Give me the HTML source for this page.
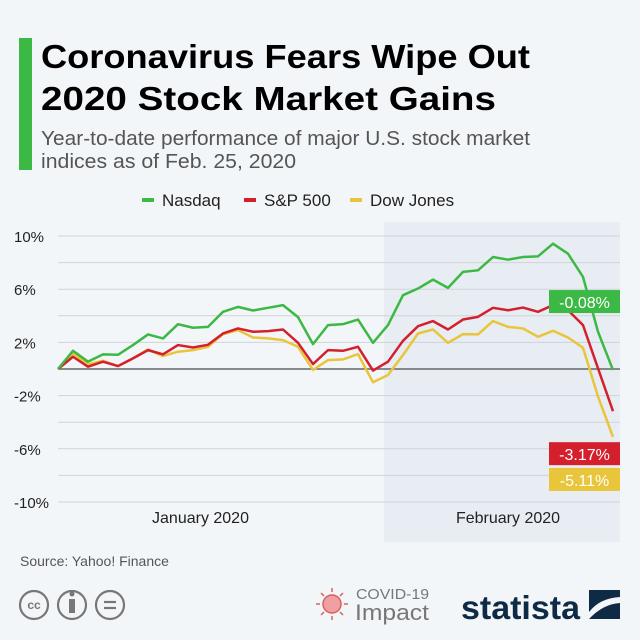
<!DOCTYPE html>
<html><head><meta charset="utf-8"><style>
body{margin:0;background:#f3f6f9;}
#root{position:relative;width:640px;height:640px;background:#f3f6f9;font-family:"Liberation Sans",sans-serif;overflow:hidden}
</style></head><body>
<div id="root">
<svg id="svg" width="640" height="640" xmlns="http://www.w3.org/2000/svg">
<rect x="19" y="38" width="13" height="132" fill="#3cb944"/>
<text x="41" y="68" font-size="33" font-weight="bold" fill="#000" textLength="489" lengthAdjust="spacingAndGlyphs">Coronavirus Fears Wipe Out</text>
<text x="41" y="110" font-size="33" font-weight="bold" fill="#000" textLength="455" lengthAdjust="spacingAndGlyphs">2020 Stock Market Gains</text>
<text x="41" y="145" font-size="20" fill="#555" textLength="489" lengthAdjust="spacingAndGlyphs">Year-to-date performance of major U.S. stock market</text>
<text x="41" y="168" font-size="20" fill="#555" textLength="255" lengthAdjust="spacingAndGlyphs">indices as of Feb. 25, 2020</text>
<g>
<rect x="142" y="198" width="12" height="4" fill="#3cb944"/>
<text x="162" y="206" font-size="17" fill="#222">Nasdaq</text>
<rect x="244" y="198" width="12" height="4" fill="#d4202c"/>
<text x="264" y="206" font-size="17" fill="#222">S&amp;P 500</text>
<rect x="350" y="198" width="12" height="4" fill="#e8c53a"/>
<text x="370" y="206" font-size="17" fill="#222">Dow Jones</text>
</g>
<g id="plot"></g>
<text x="20" y="566" font-size="14" fill="#555">Source: Yahoo! Finance</text>
<g fill="none" stroke="#777" stroke-width="2.2">
<circle cx="34" cy="605" r="14"/><circle cx="72" cy="605" r="14"/><circle cx="110" cy="605" r="14"/>
<text x="34" y="609" font-size="12" fill="#777" stroke="none" text-anchor="middle" font-weight="bold">cc</text>
<rect x="69" y="599" width="6" height="14" fill="#777" stroke="none"/><circle cx="72" cy="594" r="2.5" fill="#777" stroke="none"/>
<line x1="104" y1="602" x2="116" y2="602"/><line x1="104" y1="608" x2="116" y2="608"/>
</g>
<g>
<circle cx="332" cy="604" r="9" fill="#f0a0a0" stroke="#d86060" stroke-width="1.5"/>
<g stroke="#d86060" stroke-width="1.5"><line x1="332" y1="592" x2="332" y2="588"/><line x1="332" y1="616" x2="332" y2="620"/><line x1="320" y1="604" x2="316" y2="604"/><line x1="344" y1="604" x2="348" y2="604"/><line x1="324" y1="596" x2="321" y2="593"/><line x1="340" y1="612" x2="343" y2="615"/><line x1="340" y1="596" x2="343" y2="593"/><line x1="324" y1="612" x2="321" y2="615"/></g>
<text x="356" y="599" font-size="15" fill="#777" textLength="73" lengthAdjust="spacingAndGlyphs">COVID-19</text>
<text x="355" y="620" font-size="22" fill="#777" textLength="74" lengthAdjust="spacingAndGlyphs">Impact</text>
</g>
<g>
<text x="461" y="619" font-size="33" font-weight="bold" fill="#0f2a44" textLength="119" lengthAdjust="spacingAndGlyphs">statista</text>
<rect x="589" y="590" width="31" height="29" fill="#0f2a44"/>
<path d="M589 612 Q600 598 620 597 L620 603 Q603 604 589 619 Z" fill="#f3f6f9"/>
</g>
</svg>
</div>
<script>
const categories = ["Dec31","Jan2","Jan3","Jan6","Jan7","Jan8","Jan9","Jan10","Jan13","Jan14","Jan15","Jan16","Jan17","Jan21","Jan22","Jan23","Jan24","Jan27","Jan28","Jan29","Jan30","Jan31","Feb3","Feb4","Feb5","Feb6","Feb7","Feb10","Feb11","Feb12","Feb13","Feb14","Feb18","Feb19","Feb20","Feb21","Feb24","Feb25"];
const nasdaq = [0,1.37,0.55,1.1,1.07,1.8,2.6,2.3,3.37,3.1,3.17,4.3,4.67,4.4,4.6,4.8,3.9,1.87,3.3,3.37,3.72,1.97,3.3,5.55,6.05,6.72,6.1,7.3,7.42,8.42,8.22,8.42,8.47,9.42,8.67,6.92,2.8,-0.08];
const sp500 = [0,0.92,0.17,0.55,0.22,0.8,1.42,1.1,1.8,1.62,1.82,2.67,3.05,2.8,2.85,2.97,1.97,0.37,1.42,1.37,1.67,-0.12,0.55,2.12,3.22,3.6,2.97,3.72,3.92,4.6,4.42,4.62,4.3,4.8,4.42,3.3,0.05,-3.17];
const dow = [0,1.17,0.35,0.62,0.22,0.8,1.47,0.97,1.3,1.42,1.67,2.62,2.92,2.37,2.3,2.17,1.67,-0.07,0.67,0.72,1.12,-1.0,-0.45,1.05,2.67,2.97,1.97,2.62,2.6,3.6,3.17,3.05,2.42,2.87,2.37,1.6,-2.07,-5.11];
const yTicks = [10,6,2,-2,-6,-10];
const endLabels = ["-0.08%","-3.17%","-5.11%"];
const monthLabels = ["January 2020","February 2020"];

const NS="http://www.w3.org/2000/svg";
const plot=document.getElementById('plot');
const X0=58, X1=613, Y0=369, PPU=13.3;
const xs=i=>X0+i*(X1-X0)/(categories.length-1);
const ys=v=>Y0-v*PPU;
function mk(tag,attrs){const e=document.createElementNS(NS,tag);for(const k in attrs)e.setAttribute(k,attrs[k]);plot.appendChild(e);return e;}
const febStart=categories.indexOf("Feb3");
const sh=mk('rect',{x:xs(febStart)-4,y:ys(10)-14,width:620-(xs(febStart)-4),height:ys(-10)+40-(ys(10)-14),fill:'#e8edf4'});


for(let v=-10;v<=10;v+=2){
  const g=mk('line',{x1:X0,x2:620,y1:ys(v),y2:ys(v),stroke:v===0?'#666':'#cfd3d8','stroke-width':v===0?1.5:1});
  
  
}
yTicks.forEach(v=>{
  const t=mk('text',{x:14,y:ys(v)+6,'font-size':15,fill:'#222'});
  t.textContent=v+'%';
  
  
});
[[categories.indexOf("Jan16")-1.5,0],[categories.indexOf("Feb13"),1]].forEach(([i,k])=>{
  const t=mk('text',{x:xs(i),y:523,'font-size':16,fill:'#222','text-anchor':'middle'});
  t.textContent=monthLabels[k];
  
  
});
const series=[[dow,'#e8c53a','dow-line'],[sp500,'#d4202c','sp500-line'],[nasdaq,'#3cb944','nasdaq-line']];
series.forEach(([d,c,n])=>{
  const p=mk('polyline',{points:d.map((v,i)=>xs(i)+','+ys(v)).join(' '),fill:'none',stroke:c,'stroke-width':2.5,'stroke-linejoin':'round'});
  
  
});
const last=categories.length-1;
const boxes=[[nasdaq[last],'#3cb944',endLabels[0],ys(nasdaq[last])-80,'nasdaq-end-label'],[sp500[last],'#d4202c',endLabels[1],ys(sp500[last])+31,'sp500-end-label'],[dow[last],'#e8c53a',endLabels[2],ys(dow[last])+31,'dow-end-label']];
boxes.forEach(([v,c,txt,y,n])=>{
  const r=mk('rect',{x:549,y:y,width:71,height:23,fill:c});
  
  
  const t=mk('text',{x:584.5,y:y+18,'font-size':16,fill:'#fff','text-anchor':'middle'});
  t.textContent=txt;
  
  
});
</script>
</body></html>
